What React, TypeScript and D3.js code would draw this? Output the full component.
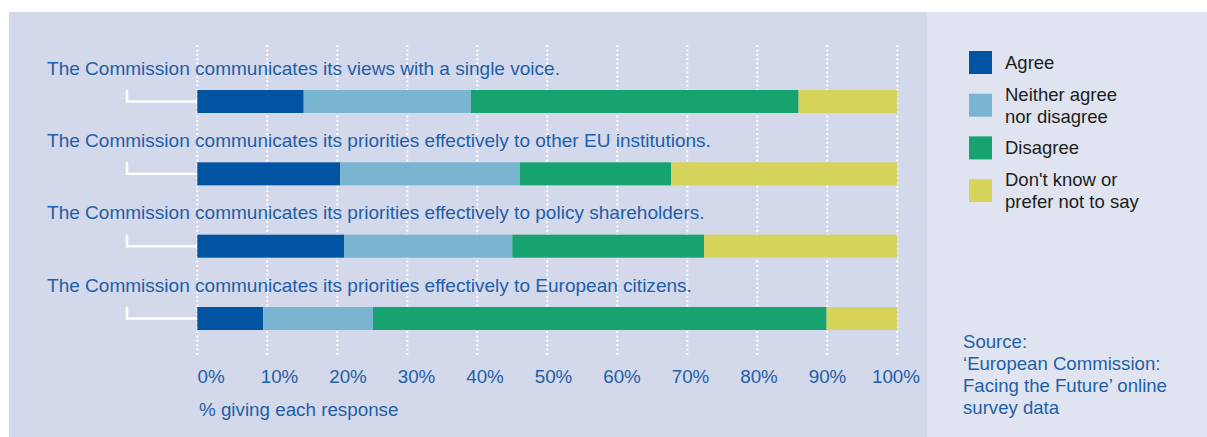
import React from "react";
import * as d3 from "d3";

const statements = [
  "The Commission communicates its views with a single voice.",
  "The Commission communicates its priorities effectively to other EU institutions.",
  "The Commission communicates its priorities effectively to policy shareholders.",
  "The Commission communicates its priorities effectively to European citizens.",
];
const responses = ["Agree", "Neither agree nor disagree", "Disagree", "Don't know or prefer not to say"];
const legendLines = [["Agree"], ["Neither agree", "nor disagree"], ["Disagree"], ["Don't know or", "prefer not to say"]];
const agree = [15.2, 20.4, 21.0, 9.4];
const neither = [23.9, 25.7, 24.0, 15.7];
const disagree = [46.8, 21.6, 27.4, 64.8];
const dontKnow = [14.1, 32.3, 27.6, 10.1];
const ticks = [0, 10, 20, 30, 40, 50, 60, 70, 80, 90, 100];
const axisTitle = "% giving each response";
const sourceLines = ["Source:", "\u2018European Commission:", "Facing the Future\u2019 online", "survey data"];

const colors = ["#0054a1", "#79b4d1", "#16a370", "#d6d45b"];
const FONT = "'Liberation Sans', Arial, Helvetica, sans-serif";
const BLUE = "#1f5fa8";

export default function App() {
  const W = 1207, H = 437;
  const x = d3.scaleLinear().domain([0, 100]).range([197.3, 897.3]);
  const xLabel = d3.scaleLinear().domain([0, 100]).range([211, 896]);
  const y = d3.scalePoint<string>().domain(statements).range([90, 307]);
  const barH = 23;

  const rows = statements.map((s, i) => ({
    s,
    Agree: agree[i],
    "Neither agree nor disagree": neither[i],
    Disagree: disagree[i],
    "Don't know or prefer not to say": dontKnow[i],
  }));
  const stacked = d3.stack<any>().keys(responses)(rows);

  // legend layout
  let c = 62.5;
  const legendCenters: number[] = [];
  legendLines.forEach((l, i) => {
    if (i > 0) c += 11 * (legendLines[i - 1].length + l.length) + 9.7;
    legendCenters.push(c);
  });

  return (
    <svg width={W} height={H} style={{ position: "absolute", left: 0, top: 0, fontFamily: FONT }}>
      <rect x={9} y={12} width={918} height={H - 12} fill="#d3d8eb" />
      <rect x={927} y={12} width={W - 927} height={H - 12} fill="#dfe4f0" />

      {ticks.map((t) => (
        <line key={"g" + t} x1={x(t)} x2={x(t)} y1={45} y2={355} stroke="#ffffff" strokeWidth={2} strokeDasharray="2 2.4" />
      ))}

      {statements.map((s) => {
        const top = y(s)!;
        return (
          <g key={s}>
            <text x={47} y={top - 15.5} fontSize={19.05} fill={BLUE}>{s}</text>
            <path
              d={`M127,${top} V${top + barH / 2} H${x(0)}`}
              fill="none"
              stroke="#ffffff"
              strokeWidth={2.5}
            />
          </g>
        );
      })}

      {stacked.map((series, k) => (
        <g key={responses[k]} fill={colors[k]}>
          {series.map((d: any, i: number) => (
            <rect
              key={i}
              x={x(d[0])}
              y={y(statements[i])!}
              width={x(d[1]) - x(d[0])}
              height={barH}
            />
          ))}
        </g>
      ))}

      {ticks.map((t) => (
        <text key={"t" + t} x={xLabel(t)} y={383} fontSize={18.8} fill={BLUE} textAnchor="middle">
          {t}%
        </text>
      ))}
      <text x={199} y={415.5} fontSize={18.8} fill={BLUE}>{axisTitle}</text>

      {legendLines.map((lines, i) => {
        const cy = legendCenters[i];
        const first = cy - (lines.length - 1) * 11 + 6.5;
        return (
          <g key={"l" + i}>
            <rect x={969} y={cy - 11.5} width={23} height={23} fill={colors[i]} />
            {lines.map((ln, j) => (
              <text key={j} x={1005} y={first + j * 22} fontSize={18.5} fill="#1d1d1b">{ln}</text>
            ))}
          </g>
        );
      })}

      {sourceLines.map((ln, j) => (
        <text key={"s" + j} x={963} y={347.7 + j * 22.1} fontSize={18.6} fill={BLUE}>{ln}</text>
      ))}
    </svg>
  );
}
